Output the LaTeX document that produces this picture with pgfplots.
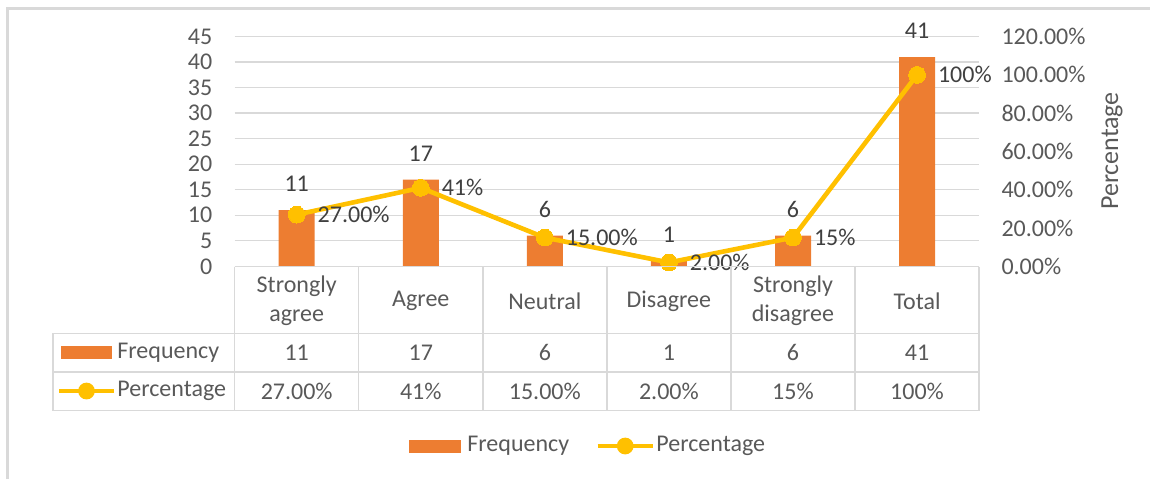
\documentclass[border=0pt]{standalone}
\usepackage{pgfplots}
\pgfplotsset{compat=1.18}
\usepackage{pgfplotstable}
\usepackage{fontspec}
\setmainfont{Carlito}
\definecolor{barc}{HTML}{ED7D31}
\definecolor{linec}{HTML}{FFC000}
\definecolor{txt}{HTML}{595959}
\definecolor{lbl}{HTML}{404040}
\definecolor{gridc}{HTML}{D9D9D9}

\pgfplotstableread{
x freq pct plabel
0 11 27 27.00
1 17 41 41
2 6 15 15.00
3 1 2 2.00
4 6 15 15
5 41 100 100
}\datatab

\begin{document}
\begin{tikzpicture}[font=\fontsize{12}{14.5}\selectfont]
\begin{axis}[
  at={(117.35pt,106.35pt)}, anchor=south west,
  scale only axis, width=372.2pt, height=114.85pt,
  xmin=-0.5, xmax=5.5, ymin=0, ymax=45,
  xtick=\empty, ytick={0,5,...,45},
  yticklabels={0,5,10,15,20,25,30,35,40,45},
  axis line style={draw=none},
  major tick length=0pt,
  ymajorgrids, grid style={gridc, line width=0.7pt},
  yticklabel style={inner sep=0pt, xshift=-11pt, text=txt, font=\fontsize{12}{14}\selectfont},
  clip=false,
]
\addplot[ybar, bar width=18pt, fill=barc, draw=none,
  point meta=explicit symbolic,
  nodes near coords={\pgfplotspointmeta},
  nodes near coords style={anchor=south, inner sep=0pt, yshift=9pt, text=lbl, font=\fontsize{12}{14}\selectfont}]
  table[x=x,y=freq,meta=freq]{\datatab};
\end{axis}
\begin{axis}[
  at={(117.35pt,106.35pt)}, anchor=south west,
  scale only axis, width=372.2pt, height=114.85pt,
  xmin=-0.5, xmax=5.5, ymin=0, ymax=120,
  xtick=\empty, ytick={0,20,...,120},
  yticklabels={0.00\%,20.00\%,40.00\%,60.00\%,80.00\%,100.00\%,120.00\%},
  axis y line*=right, axis x line=none,
  axis line style={draw=none},
  major tick length=0pt,
  yticklabel style={inner sep=0pt, xshift=11pt, anchor=west, text=txt, font=\fontsize{12}{14}\selectfont},
  clip=false,
]
\addplot[linec, line width=2.3pt, mark=*, mark size=4.2pt,
  mark options={fill=linec, draw=linec, line width=0pt},
  point meta=explicit symbolic,
  nodes near coords={\pgfplotspointmeta\%},
  nodes near coords style={anchor=west, inner sep=0pt, xshift=10.5pt, text=lbl, font=\fontsize{12}{14}\selectfont}]
  table[x=x,y=pct,meta=plabel]{\datatab};
\end{axis}
\begin{scope}[x=0.5pt, y=-0.5pt, yshift=239.5pt]
  % chart border
  \draw[gridc, line width=1.5pt] (7.5,479) -- (7.5,8) -- (1150,8);
  % table grid
  \draw[gridc, line width=0.7pt] (234.7,266.7) -- (979.1,266.7);
  \foreach \yy in {333.3,372,410.7} \draw[gridc, line width=0.7pt] (52.8,\yy) -- (979.1,\yy);
  \draw[gridc, line width=0.7pt] (52.8,333.3) -- (52.8,410.7);
  \foreach \i in {0,...,6} \draw[gridc, line width=0.7pt] ({234.7+124.07*\i},266.7) -- ({234.7+124.07*\i},410.7);
  % categories
  \begin{scope}[every node/.style={text=txt, align=center, font=\fontsize{12}{14.5}\selectfont}]
  \node at (296.7,301) {Strongly\\agree};
  \node at (420.8,301) {Agree};
  \node at (544.9,301) {Neutral};
  \node at (668.9,301) {Disagree};
  \node at (793.0,301) {Strongly\\disagree};
  \node at (917.1,301) {Total};
  \foreach \v [count=\i from 0] in {11,17,6,1,6,41} \node at ({296.7+124.07*\i},352.5) {\v};
  \foreach \v [count=\i from 0] in {27.00\%,41\%,15.00\%,2.00\%,15\%,100\%} \node at ({296.7+124.07*\i},391) {\v};
  \end{scope}
  % row keys
  \fill[barc] (61,346) rectangle (111.5,359);
  \node[anchor=west, inner sep=0pt, text=txt] at (117,352.5) {Frequency};
  \draw[linec, line width=2.3pt] (59,391) -- (114,391);
  \fill[linec] (86.5,391) circle[radius=4.2pt];
  \node[anchor=west, inner sep=0pt, text=txt] at (117,391) {Percentage};
  % legend
  \fill[barc] (409,440) rectangle (460.6,452.7);
  \node[anchor=west, inner sep=0pt, text=txt] at (467,446) {Frequency};
  \draw[linec, line width=2.3pt] (597.7,446) -- (652.7,446);
  \fill[linec] (625.2,446) circle[radius=4.2pt];
  \node[anchor=west, inner sep=0pt, text=txt] at (656,446) {Percentage};
  % right axis title
  \node[rotate=90, text=txt, font=\fontsize{13}{15}\selectfont] at (1112,151) {Percentage};
\end{scope}
\pgfresetboundingbox
\path[use as bounding box] (0,0) rectangle (575pt,239.5pt);
\end{tikzpicture}
\end{document}
